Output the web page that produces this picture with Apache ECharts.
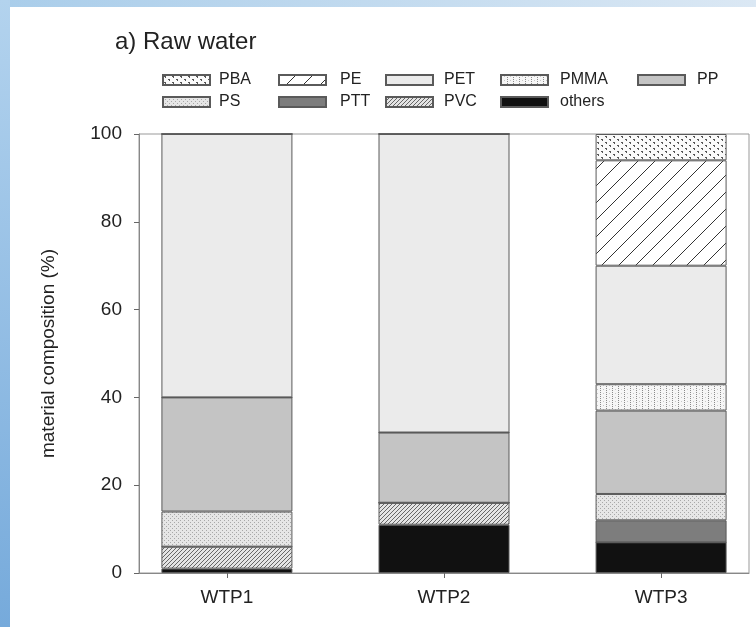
<!DOCTYPE html>
<html>
<head>
<meta charset="utf-8">
<script src="https://cdn.jsdelivr.net/npm/echarts@6/dist/echarts.min.js"></script>
<style>
html,body{margin:0;padding:0;background:#fff;}
#chart{width:756px;height:627px;}
</style>
</head>
<body>
<div id="chart"></div>
<script>
// ---- data ----
const categories = ['WTP1', 'WTP2', 'WTP3'];
const seriesNames = ['PBA', 'PE', 'PET', 'PMMA', 'PP', 'PS', 'PTT', 'PVC', 'others'];
const PBA    = [0, 0, 6];
const PE     = [0, 0, 24];
const PET    = [60, 68, 27];
const PMMA   = [0, 0, 6];
const PP     = [26, 16, 19];
const PS     = [8, 0, 6];
const PTT    = [0, 0, 5];
const PVC    = [5, 5, 0];
const others = [1, 11, 7];
const yTicks = [0, 20, 40, 60, 80, 100];

const valuesByName = {PBA, PE, PET, PMMA, PP, PS, PTT, PVC, others};
// stacking order, bottom to top
const stackOrder = ['others', 'PVC', 'PTT', 'PS', 'PP', 'PMMA', 'PET', 'PE', 'PBA'];

// ---- patterns ----
function tile(w, h, draw) {
  const c = document.createElement('canvas');
  c.width = w; c.height = h;
  const ctx = c.getContext('2d');
  draw(ctx, w, h);
  return {image: c, repeat: 'repeat'};
}
const fills = {
  PBA: tile(8, 6, (ctx, w, h) => {
    ctx.fillStyle = '#fafafa'; ctx.fillRect(0, 0, w, h);
    ctx.fillStyle = '#555';
    ctx.fillRect(1, 1, 2, 1); ctx.fillRect(2, 2, 1, 1);
    ctx.fillRect(5, 4, 2, 1); ctx.fillRect(6, 5, 1, 1);
  }),
  PE: tile(17, 17, (ctx, w, h) => {
    ctx.fillStyle = '#ffffff'; ctx.fillRect(0, 0, w, h);
    ctx.strokeStyle = '#333'; ctx.lineWidth = 1;
    ctx.beginPath();
    ctx.moveTo(-1, h + 1); ctx.lineTo(w + 1, -1);
    ctx.moveTo(-1, 1); ctx.lineTo(1, -1);
    ctx.moveTo(w - 1, h + 1); ctx.lineTo(w + 1, h - 1);
    ctx.stroke();
  }),
  PET: '#ebebeb',
  PMMA: tile(6, 4, (ctx, w, h) => {
    ctx.fillStyle = '#f6f6f6'; ctx.fillRect(0, 0, w, h);
    ctx.fillStyle = '#8a8a8a';
    ctx.fillRect(0, 0, 1, 1); ctx.fillRect(0, 2, 1, 1);
    ctx.fillStyle = '#c8c8c8';
    ctx.fillRect(3, 1, 1, 1);
  }),
  PP: '#c4c4c4',
  PS: tile(4, 4, (ctx, w, h) => {
    ctx.fillStyle = '#e6e6e6'; ctx.fillRect(0, 0, w, h);
    ctx.fillStyle = '#a8a8a8';
    ctx.fillRect(0, 0, 1, 1); ctx.fillRect(2, 2, 1, 1);
  }),
  PTT: '#7d7d7d',
  PVC: tile(4, 4, (ctx, w, h) => {
    ctx.fillStyle = '#e4e4e4'; ctx.fillRect(0, 0, w, h);
    ctx.strokeStyle = '#666'; ctx.lineWidth = 1;
    ctx.beginPath();
    ctx.moveTo(-1, h + 1); ctx.lineTo(w + 1, -1);
    ctx.stroke();
  }),
  others: '#111111'
};

// value first so that the stacked dimension is the y value
const series = stackOrder.map(name => ({
  name: name,
  type: 'bar',
  stack: 'total',
  barWidth: 131,
  encode: {x: 1, y: 0},
  data: valuesByName[name].map((v, i) => [v, i + 1]),
  itemStyle: {color: fills[name], borderColor: '#5a5a5a', borderWidth: 1},
  emphasis: {disabled: true},
  animation: false
}));

const legendCols = [
  {left: 162, gap: 4, data: ['PBA', 'PS']},
  {left: 278, gap: 9, data: ['PE', 'PTT']},
  {left: 385, gap: 6, data: ['PET', 'PVC']},
  {left: 500, gap: 7, data: ['PMMA', 'others']},
  {left: 637, gap: 7, data: ['PP']}
];
const legends = legendCols.map(c => ({
  orient: 'vertical',
  left: c.left - 5,
  top: 67,
  itemWidth: 47,
  itemHeight: 10,
  itemGap: 6,
  selectedMode: false,
  icon: 'rect',
  data: c.data,
  textStyle: {fontFamily: 'Liberation Sans', fontSize: 16, color: '#222', padding: [0, 0, 0, c.gap]}
}));

const chart = echarts.init(document.getElementById('chart'), null, {renderer: 'canvas'});
chart.setOption({
  backgroundColor: '#ffffff',
  animation: false,
  title: {
    text: 'a) Raw water',
    left: 110, top: 25,
    textStyle: {fontFamily: 'Liberation Sans', fontSize: 24, fontWeight: 'normal', color: '#222'}
  },
  graphic: [
    {type: 'rect', left: 0, top: 0, shape: {width: 756, height: 7},
     style: {fill: new echarts.graphic.LinearGradient(0, 0, 1, 0, [{offset: 0, color: '#a9cdea'}, {offset: 1, color: '#dbe8f4'}])}, silent: true},
    {type: 'rect', left: 0, top: 0, shape: {width: 10, height: 627},
     style: {fill: new echarts.graphic.LinearGradient(0, 0, 0, 1, [{offset: 0, color: '#b3d3ee'}, {offset: 1, color: '#76aadb'}])}, silent: true}
  ],
  legend: legends,
  grid: {left: 139, right: 7, top: 134, bottom: 54, show: true, borderColor: '#999', borderWidth: 1, backgroundColor: 'transparent'},
  xAxis: {
    type: 'value',
    min: 0.595, max: 3.405,
    splitLine: {show: false},
    axisLine: {show: true, lineStyle: {color: '#888'}},
    axisTick: {show: true, customValues: [1, 2, 3], length: 5, inside: false, lineStyle: {color: '#666'}},
    axisLabel: {
      customValues: [1, 2, 3],
      formatter: v => categories[Math.round(v) - 1] || '',
      fontFamily: 'Liberation Sans', fontSize: 19, color: '#222', margin: 15
    }
  },
  yAxis: {
    type: 'value',
    min: 0, max: 100, interval: 20,
    name: 'material composition (%)',
    nameLocation: 'middle',
    nameGap: 81,
    nameTextStyle: {fontFamily: 'Liberation Sans', fontSize: 19, color: '#222'},
    splitLine: {show: false},
    axisLine: {show: true, lineStyle: {color: '#888'}},
    axisTick: {show: true, length: 5, inside: false, lineStyle: {color: '#666'}},
    axisLabel: {
      customValues: yTicks,
      fontFamily: 'Liberation Sans', fontSize: 19, color: '#222', margin: 17
    }
  },
  series: series
});
</script>
</body>
</html>
